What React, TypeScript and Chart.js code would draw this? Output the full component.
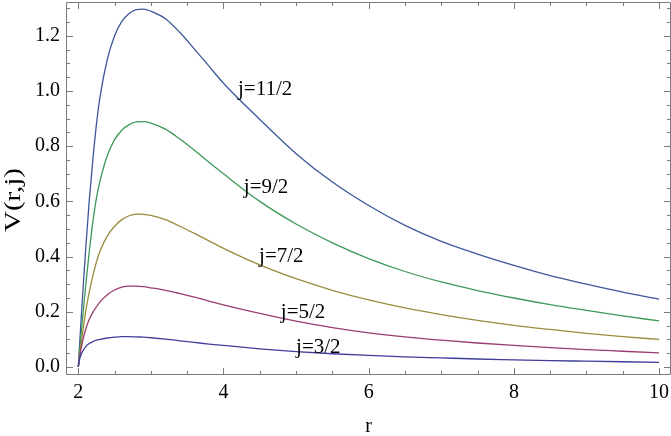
import React, { useEffect, useRef } from "react";
import { Chart, registerables } from "chart.js";

Chart.register(...registerables);

// radial coordinate samples
const rValues = [2.0, 2.02, 2.05, 2.1, 2.15, 2.2, 2.25, 2.3, 2.4, 2.5, 2.6, 2.7, 2.8, 2.9, 3.0, 3.2, 3.4, 3.6, 3.8, 4.0, 4.5, 5.0, 5.5, 6.0, 6.5, 7.0, 7.5, 8.0, 8.5, 9.0, 9.5, 10.0];

// V(r, j)
const vJ3 = [0, 0.03, 0.052, 0.073, 0.085, 0.092, 0.097, 0.1, 0.105, 0.108, 0.11, 0.11, 0.109, 0.108, 0.106, 0.101, 0.095, 0.089, 0.083, 0.078, 0.066, 0.056, 0.048, 0.042, 0.037, 0.033, 0.029, 0.026, 0.023, 0.021, 0.019, 0.017];
const vJ5 = [0, 0.038, 0.082, 0.135, 0.172, 0.198, 0.218, 0.236, 0.262, 0.279, 0.289, 0.293, 0.293, 0.291, 0.287, 0.278, 0.266, 0.253, 0.239, 0.225, 0.194, 0.166, 0.143, 0.124, 0.109, 0.097, 0.087, 0.078, 0.07, 0.063, 0.057, 0.051];
const vJ7 = [0, 0.045, 0.105, 0.198, 0.27, 0.33, 0.381, 0.42, 0.475, 0.51, 0.534, 0.548, 0.554, 0.553, 0.549, 0.534, 0.51, 0.484, 0.457, 0.43, 0.37, 0.32, 0.278, 0.243, 0.214, 0.19, 0.169, 0.151, 0.136, 0.122, 0.11, 0.1];
const vJ9 = [0, 0.062, 0.152, 0.29, 0.415, 0.525, 0.612, 0.675, 0.766, 0.824, 0.858, 0.878, 0.888, 0.889, 0.884, 0.862, 0.826, 0.785, 0.742, 0.7, 0.6, 0.518, 0.45, 0.393, 0.346, 0.308, 0.277, 0.25, 0.226, 0.205, 0.185, 0.167];
const vJ11 = [0, 0.09, 0.22, 0.42, 0.6, 0.75, 0.88, 0.98, 1.115, 1.2, 1.252, 1.281, 1.295, 1.297, 1.289, 1.262, 1.212, 1.152, 1.09, 1.028, 0.897, 0.773, 0.67, 0.585, 0.513, 0.455, 0.409, 0.368, 0.331, 0.3, 0.271, 0.246];

const seriesValues = [vJ3, vJ5, vJ7, vJ9, vJ11];
const seriesLabels = ["j=3/2", "j=5/2", "j=7/2", "j=9/2", "j=11/2"];
const seriesColors = ["#3f3d99", "#993d71", "#998c3d", "#3d9958", "#3d5799"];

// label anchors (data coordinates: left edge / vertical middle of the text)
const labelR = [5.0, 4.79, 4.49, 4.28, 4.2];
const labelV = [0.072, 0.199, 0.402, 0.649, 1.004];

const xTickValues = [2, 4, 6, 8, 10];
const yTickValues = [0, 0.2, 0.4, 0.6, 0.8, 1.0, 1.2];
const xMinorStep = 0.5;
const yMinorStep = 0.05;

const X_MIN = 1.8306;
const X_MAX = 10.164;
const Y_MIN = -0.029;
const Y_MAX = 1.3225;

const FONT = "'Liberation Serif', 'DejaVu Serif', serif";
const FRAME = "#7b7b7b";

const framePlugin = {
  id: "framePlugin",
  afterDatasetsDraw(chart: any) {
    const { ctx, chartArea, scales } = chart;
    const { left, right, top, bottom } = chartArea;
    const xs = scales.x;
    const ys = scales.y;
    ctx.save();

    // curve labels
    ctx.fillStyle = "#000";
    ctx.font = `21px ${FONT}`;
    ctx.textAlign = "left";
    ctx.textBaseline = "middle";
    seriesLabels.forEach((t, i) => {
      ctx.fillText(t, xs.getPixelForValue(labelR[i]), ys.getPixelForValue(labelV[i]));
    });

    // frame
    ctx.strokeStyle = FRAME;
    ctx.lineWidth = 1;
    ctx.beginPath();
    ctx.rect(left + 0.5, top + 0.5, right - left - 1, bottom - top - 1);
    ctx.stroke();

    const lineX = (px: number, y0: number, y1: number) => {
      const p = Math.round(px) + 0.5;
      ctx.moveTo(p, y0);
      ctx.lineTo(p, y1);
    };
    const lineY = (py: number, x0: number, x1: number) => {
      const p = Math.round(py) + 0.5;
      ctx.moveTo(x0, p);
      ctx.lineTo(x1, p);
    };

    ctx.beginPath();
    for (let v = xTickValues[0]; v <= X_MAX + 1e-9; v += xMinorStep) {
      const major = xTickValues.some((t) => Math.abs(t - v) < 1e-6);
      const len = major ? 7 : 4;
      const px = xs.getPixelForValue(v);
      lineX(px, bottom, bottom - len);
      lineX(px, top, top + len);
    }
    for (let k = Math.ceil(Y_MIN / yMinorStep); k * yMinorStep <= Y_MAX + 1e-9; k++) {
      const v = k * yMinorStep;
      const major = yTickValues.some((t) => Math.abs(t - v) < 1e-6);
      const len = major ? 7 : 4;
      const py = ys.getPixelForValue(v);
      lineY(py, left, left + len);
      lineY(py, right, right - len);
    }
    ctx.stroke();

    // axis titles
    ctx.fillStyle = "#000";
    ctx.font = `20px ${FONT}`;
    ctx.textAlign = "center";
    ctx.textBaseline = "middle";
    ctx.fillText("r", (left + right) / 2, 427);

    ctx.font = `24px ${FONT}`;
    ctx.translate(13.5, 200);
    ctx.rotate(-Math.PI / 2);
    const w = ctx.measureText("V(r,j)").width;
    ctx.scale(64 / w, 1);
    ctx.fillText("V(r,j)", 0, 0);
    ctx.restore();
  },
};

export default function App() {
  const canvasRef = useRef<HTMLCanvasElement | null>(null);

  useEffect(() => {
    const canvas = canvasRef.current;
    if (!canvas) return;
    const datasets = seriesValues.map((vals, i) => ({
      label: seriesLabels[i],
      data: rValues.map((r, k) => ({ x: r, y: vals[k] })),
      borderColor: seriesColors[i],
      backgroundColor: seriesColors[i],
      borderWidth: 1.3,
      pointRadius: 0,
      fill: false,
      cubicInterpolationMode: "monotone" as const,
    }));

    const chart = new Chart(canvas, {
      type: "line",
      data: { datasets },
      options: {
        animation: false,
        responsive: false,
        devicePixelRatio: 1,
        layout: { padding: { top: 2, right: 0, left: 0, bottom: 0 } },
        plugins: {
          legend: { display: false },
          tooltip: { enabled: false },
        },
        scales: {
          x: {
            type: "linear",
            min: X_MIN,
            max: X_MAX,
            grid: { display: true, drawOnChartArea: false, drawTicks: false },
            border: { display: false },
            afterBuildTicks: (scale: any) => {
              scale.ticks = xTickValues.map((v) => ({ value: v }));
            },
            afterFit: (scale: any) => {
              scale.height = 61;
              scale.paddingLeft = 0;
              scale.paddingRight = 0;
              scale.paddingTop = 0;
              scale.paddingBottom = 0;
            },
            ticks: {
              padding: 6,
              color: "#000",
              font: { family: FONT, size: 20 },
              maxRotation: 0,
              autoSkip: false,
              callback: (v: any) => String(v),
            },
          },
          y: {
            type: "linear",
            min: Y_MIN,
            max: Y_MAX,
            grid: { display: true, drawOnChartArea: false, drawTicks: false },
            border: { display: false },
            afterBuildTicks: (scale: any) => {
              scale.ticks = yTickValues.map((v) => ({ value: v }));
            },
            afterFit: (scale: any) => {
              scale.width = 66;
              scale.paddingLeft = 0;
              scale.paddingRight = 0;
              scale.paddingTop = 0;
              scale.paddingBottom = 0;
            },
            ticks: {
              padding: 6,
              color: "#000",
              font: { family: FONT, size: 20 },
              autoSkip: false,
              callback: (v: any) => Number(v).toFixed(1),
            },
          },
        },
      },
      plugins: [framePlugin],
    });
    return () => chart.destroy();
  }, []);

  return (
    <div style={{ position: "fixed", left: 0, top: 0, width: 671, height: 436, background: "#fff" }}>
      <canvas ref={canvasRef} width={671} height={436} style={{ display: "block" }} />
    </div>
  );
}
